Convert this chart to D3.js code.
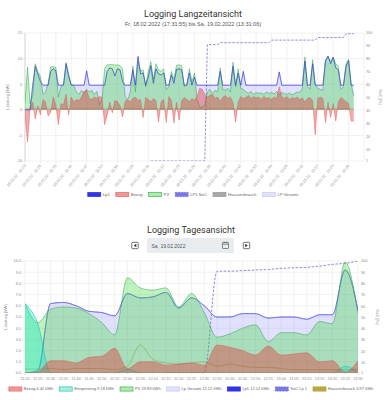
<!DOCTYPE html>
<html>
<head>
<meta charset="utf-8">
<script src="https://cdn.jsdelivr.net/npm/d3@7"></script>
<style>
  body { margin: 0; background: #fff; }
  svg text { font-family: "Liberation Sans", Arial, sans-serif; }
  .title { font-family: Roboto, "Noto Sans", sans-serif !important; fill: #333; }
</style>
</head>
<body>
<svg id="chart" width="386" height="400"></svg>
<script>
// ---- Langzeitansicht: 1-Minuten-Werte ab 11:23 ----
const longTickLabels = ["19.02.22 - 11:23", "19.02.22 - 11:29", "19.02.22 - 11:35", "19.02.22 - 11:41",
  "19.02.22 - 11:47", "19.02.22 - 11:53", "19.02.22 - 11:59", "19.02.22 - 12:05", "19.02.22 - 12:11",
  "19.02.22 - 12:17", "19.02.22 - 12:23", "19.02.22 - 12:29", "19.02.22 - 12:35", "19.02.22 - 12:41",
  "19.02.22 - 12:47", "19.02.22 - 12:53", "19.02.22 - 12:59", "19.02.22 - 13:05", "19.02.22 - 13:11",
  "19.02.22 - 13:17", "19.02.22 - 13:23", "19.02.22 - 13:29"];

const pvLong = [
  1.5, 8.3, 1.2, 2.8, 9.0, 7.5, 6.5, 3.0, 3.5, 5.2,
  8.4, 8.4, 8.3, 2.5, 4.5, 5.0, 9.2, 7.0, 5.0, 4.8,
  3.5, 3.0, 3.8, 3.2, 4.0, 3.5, 3.8, 3.0, 3.6, 1.0,
  2.0, 8.0, 8.8, 8.8, 8.9, 8.7, 8.8, 8.6, 8.0, 2.5,
  2.0, 3.5, 8.5, 3.5, 9.5, 7.5, 7.8, 4.5, 7.5, 9.4,
  6.0, 9.0, 7.8, 7.5, 8.0, 4.0, 4.5, 7.5, 6.0, 8.7,
  8.8, 8.6, 4.5, 5.0, 8.0, 5.5, 7.2, 2.0, 0.5, 0.5,
  1.0, 3.5, 4.0, 3.2, 3.8, 3.5, 8.2, 4.0, 3.8, 4.2,
  3.5, 9.3, 4.5, 8.0, 4.2, 4.0, 3.5, 3.2, 3.6, 3.0,
  3.4, 3.2, 3.3, 3.0, 3.5, 3.2, 3.4, 3.1, 3.6, 3.0,
  3.4, 3.2, 3.0, 3.3, 2.9, 3.2, 3.5, 3.4, 4.2, 10.3,
  4.5, 4.0, 9.8, 5.0, 4.2, 4.0, 3.8, 9.8, 10.3, 9.5,
  10.2, 9.0, 8.5, 4.0, 4.5, 9.0, 9.8, 5.0, 2.7];

const lp1Long = [
  0, 0, 0, 4.8, 8.5, 7.0, 5.5, 4.8, 4.8, 4.8,
  7.5, 8.0, 7.6, 4.8, 4.8, 4.8, 9.0, 6.5, 4.8, 4.8,
  4.8, 4.8, 4.8, 4.8, 7.6, 4.8, 4.8, 4.8, 4.8, 4.8,
  4.8, 4.8, 7.5, 8.2, 8.0, 6.6, 8.0, 7.8, 5.5, 4.8,
  4.8, 4.8, 7.8, 4.8, 10.4, 7.0, 7.2, 4.8, 6.5, 8.6,
  5.2, 8.0, 7.0, 6.8, 7.2, 4.8, 4.8, 6.8, 5.2, 7.9,
  8.0, 7.8, 4.8, 4.8, 7.2, 4.8, 6.4, 4.8, 4.8, 4.8,
  4.8, 4.8, 4.8, 4.8, 4.8, 4.8, 7.5, 4.8, 4.8, 4.8,
  4.8, 8.5, 4.8, 7.2, 4.8, 7.5, 4.8, 4.8, 4.8, 4.8,
  4.8, 4.8, 4.8, 4.8, 4.8, 4.8, 4.8, 4.8, 4.8, 7.4,
  4.8, 4.8, 4.8, 4.8, 4.8, 4.8, 4.8, 4.8, 4.8, 9.5,
  4.8, 4.8, 9.0, 4.8, 4.8, 4.8, 4.8, 9.5, 10.5, 9.0,
  10.3, 8.2, 7.8, 4.8, 4.8, 8.5, 9.6, 4.8, 4.8];
// nur ein Ladepunkt -> LP Gesamt = Lp1
const lpGesamtLong = lp1Long.slice();

const bezugLong = [
  -1.0, -6.3, 0.5, 1.5, -1.8, 0.8, -1.0, 2.0, 1.5, -1.2,
  -0.5, 2.5, 1.0, -2.9, 1.2, 1.0, 3.0, -1.0, 2.5, 1.5,
  2.0, 1.8, 2.5, 3.6, 3.8, 2.2, 2.0, 2.5, 2.2, 2.6,
  2.4, -2.9, -1.0, 1.5, -0.6, 1.8, 1.6, 0.8, -1.4, 1.6,
  2.0, 1.5, 2.2, 2.5, 1.8, 2.0, -1.5, 2.4, 2.0, 1.5,
  2.2, 1.8, -2.4, 1.6, 2.0, -2.5, 2.6, 1.8, -2.6, 1.5,
  -2.0, 1.8, 2.4, 2.0, 1.6, 2.2, 1.8, 2.6, 4.2, 4.0,
  3.0, 2.5, 2.8, 3.0, 2.2, 2.5, 1.6, 2.4, 2.8, 2.2,
  2.5, 1.4, -2.4, 1.5, 2.6, 2.2, 2.4, 2.8, 2.2, 2.6,
  2.3, 2.5, 2.0, 2.6, 2.2, 2.4, 2.0, 2.5, 2.2, 4.5,
  2.5, 2.2, 2.6, 2.0, 2.4, 2.2, 2.5, 2.0, 2.3, 1.5,
  2.2, 2.4, 1.8, -4.9, 2.2, 2.5, 2.2, -2.5, 1.5, -1.5,
  1.2, -2.2, 1.5, 2.4, 2.0, 1.6, 1.2, -2.2, -2.2];

const hausLong = [
  0.3, 0.3, 0.3, 0.3, 0.4, 0.3, 0.3, 0.3, 0.3, 0.3,
  0.3, 0.4, 0.3, 0.3, 0.3, 0.3, 0.4, 0.3, 0.3, 0.3,
  0.3, 0.3, 0.3, 0.3, 0.3, 0.3, 0.3, 0.3, 0.3, 0.3,
  0.3, 0.3, 0.3, 0.3, 0.3, 0.3, 0.3, 0.3, 0.3, 0.3,
  0.3, 0.3, 0.3, 0.3, 0.3, 0.3, 0.3, 0.3, 0.3, 0.3,
  0.3, 0.3, 0.3, 0.3, 0.3, 0.3, 0.3, 0.3, 0.3, 0.3,
  0.3, 0.3, 0.3, 0.3, 0.3, 0.3, 0.3, 0.3, 0.3, 0.3,
  0.3, 0.3, 0.3, 0.3, 0.3, 0.3, 0.3, 0.3, 0.3, 0.3,
  0.3, 0.3, 0.3, 0.3, 0.3, 0.3, 0.3, 0.3, 0.3, 0.3,
  0.3, 0.3, 0.3, 0.3, 0.3, 0.3, 0.3, 0.3, 0.3, 0.3,
  0.3, 0.3, 0.3, 0.3, 0.3, 0.3, 0.3, 0.3, 0.3, 0.3,
  0.3, 0.3, 0.3, 0.3, 0.3, 0.3, 0.3, 0.3, 0.3, 0.3,
  0.3, 0.3, 0.3, 0.3, 0.3, 0.3, 0.3, 0.3, 0.3];

const socLong = [
  null, null, null, null, null, null, null, null, null, null,
  null, null, null, null, null, null, null, null, null, null,
  null, null, null, null, null, null, null, null, null, null,
  null, null, null, null, null, null, null, null, null, null,
  null, null, null, null, null, null, null, null, null, 1,
  1, 1, 1, 1, 1, 1, 1, 1, 1, 1,
  1, 1, 1, 1, 1, 1, 1, 1, 1, 1,
  1, 91, 91, 91, 91, 91, 92.5, 92.5, 92.5, 92.5,
  92.5, 92.5, 92.5, 92.5, 92.5, 92.5, 92.5, 92.5, 92.5, 92.5,
  92.5, 92.5, 92.5, 92.5, 92.5, 92.5, 94.5, 94.5, 94.5, 94.5,
  94.5, 94.5, 94.5, 94.5, 94.5, 94.5, 94.5, 94.5, 94.5, 94.5,
  94.5, 94.5, 94.5, 94.5, 96.5, 96.5, 96.5, 96.5, 96.5, 96.5,
  96.5, 96.5, 96.5, 96.5, 96.5, 99.5, 99.5, 99.5, 99.5];

// ---- Tagesansicht: 5-Minuten-Werte 11:20 - 13:30 ----
const dayLabels = ["11:20", "11:25", "11:30", "11:35", "11:40", "11:45", "11:50", "11:55", "12:00",
  "12:05", "12:10", "12:15", "12:20", "12:25", "12:30", "12:35", "12:40", "12:45", "12:50",
  "12:55", "13:00", "13:05", "13:10", "13:15", "13:20", "13:25", "13:30"];
const bezugDay = [0, 0.1, 1.1, 1.1, 0.9, 1.4, 1.5, 2.2, 0.4, 1.0, 1.0, 0.7, 0.8, 0.9, 0.7, 2.5, 2.3, 2.0, 1.6, 2.4, 1.6, 1.7, 1.8, 1.0, 1.1, 0.1, 1.1];
const einspeisungDay = [6.2, 4.4, 0, 0, 0, 0, 0, 0, 0.35, 0, 0, 0, 0, 0, 0, 0, 0, 0, 0, 0, 0, 0, 0, 0, 0, 0.6, 0];
const pvDay = [6.2, 4.5, 5.7, 5.9, 5.8, 5.3, 4.5, 3.4, 8.5, 7.6, 7.4, 7.6, 5.9, 7.1, 5.4, 3.2, 3.5, 4.0, 4.3, 2.8, 3.6, 3.6, 3.4, 4.6, 4.4, 9.9, 5.3];
const lpGesamtDay = [0, 0.2, 6.2, 6.3, 6.0, 5.5, 5.4, 5.1, 7.1, 6.7, 6.8, 7.2, 5.8, 6.7, 6.0, 5.0, 5.0, 5.3, 5.3, 4.9, 5.0, 5.0, 4.8, 5.2, 5.2, 9.2, 5.6];
const lp1Day = lpGesamtDay.slice();
const socDay = [null, null, null, null, null, null, null, null, null, null, null, 1, 1, 1, 1, 91, 91, 91.5, 92, 92.5, 93.5, 94, 94.4, 95.5, 97, 98, 100];
const hausDay = [0.35, 0.35, 0.4, 0.3, 0.4, 0.4, 0.4, 0.3, 0.6, 2.5, 1.2, 0.9, 0.8, 0.9, 1.0, 0.6, 0.8, 0.6, 0.5, 0.5, 0.4, 0.3, 0.3, 0.3, 0.3, 0.3, 0.3];

const kwTicksLong = [15, 10, 5, 0, -5, -10];
const kwTicksDay = [10, 9, 8, 7, 6, 5, 4, 3, 2, 1, 0];
const socTicks = [100, 90, 80, 70, 60, 50, 40, 30, 20, 10, 1];

// Farben
const cBezug = 'rgba(225,55,55,0.42)', cBezugLine = 'rgba(225,90,90,0.8)';
const cPV = 'rgba(40,215,40,0.3)', cPVLine = 'rgba(30,150,70,0.75)';
const cLp = 'rgba(120,120,250,0.22)', cLpLine = 'rgba(110,110,230,0.85)';
const cLp1 = 'rgb(50,50,230)';
const cSoc = 'rgb(110,110,215)';
const cEinsp = 'rgba(0,230,200,0.35)', cEinspLine = 'rgba(0,190,170,0.85)';
const cHaus = 'rgba(130,130,130,0.4)';
const cHausDay = 'rgb(175,165,50)';
const tickColor = '#8a8a8a', gridColor = '#e8e8e8';

const svg = d3.select('#chart');

function measure(txt, fs) {
    var t = svg.append('text').style('font-size', fs + 'px').text(txt);
    var w = t.node().getComputedTextLength();
    t.remove();
    return w;
}

function drawArea(g, x, y, data, fill, stroke, curve) {
    var area = d3.area()
        .defined(function(d) { return d != null; })
        .x(function(d, i) { return x(i); })
        .y0(y(0))
        .y1(function(d) { return y(d); })
        .curve(curve);
    g.append('path').datum(data).attr('d', area).attr('fill', fill).attr('stroke', 'none');
    if (stroke) drawLine(g, x, y, data, stroke, 0.6, null, curve);
}

function drawLine(g, x, y, data, stroke, w, dash, curve) {
    var line = d3.line()
        .defined(function(d) { return d != null; })
        .x(function(d, i) { return x(i); })
        .y(function(d) { return y(d); })
        .curve(curve);
    g.append('path').datum(data).attr('d', line).attr('fill', 'none')
        .attr('stroke', stroke).attr('stroke-width', w)
        .attr('stroke-dasharray', dash);
}

function legend(items, cx, y, fs) {
    var bw = 13, bh = 4.2, pad = 2, gap = 6;
    var widths = items.map(function(it) { return measure(it.label, fs); });
    var total = d3.sum(widths) + items.length * (bw + pad) + (items.length - 1) * gap;
    var x = cx - total / 2;
    var g = svg.append('g');
    items.forEach(function(it, k) {
        g.append('rect').attr('x', x).attr('y', y - bh / 2).attr('width', bw).attr('height', bh)
            .attr('fill', it.fill).attr('stroke', it.stroke).attr('stroke-width', 0.7)
            .attr('stroke-dasharray', it.dash);
        g.append('text').attr('x', x + bw + pad).attr('y', y + fs * 0.35)
            .style('font-size', fs + 'px').attr('fill', '#666').text(it.label);
        x += bw + pad + widths[k] + gap;
    });
}

function axisTitle(txt, x, y, rot) {
    svg.append('text').attr('transform', 'translate(' + x + ',' + y + ') rotate(' + rot + ')')
        .attr('text-anchor', 'middle').style('font-size', '4.2px').attr('fill', tickColor).text(txt);
}

// ================= Langzeitansicht =================
svg.append('text').attr('class', 'title').attr('x', 193).attr('y', 17).attr('text-anchor', 'middle')
    .style('font-size', '9px').text('Logging Langzeitansicht');
svg.append('text').attr('x', 193).attr('y', 25.5).attr('text-anchor', 'middle')
    .style('font-size', '5.5px').attr('fill', '#555')
    .text('Fr, 18.02.2022 (17:31:55) bis Sa, 19.02.2022 (13:31:06)');

var x1 = d3.scaleLinear().domain([0, 132]).range([25, 364]);
var y1 = d3.scaleLinear().domain([-10, 15]).range([161, 33]);
var y1r = d3.scaleLinear().domain([1, 100]).range([161, 33]);

var grid1 = svg.append('g');
kwTicksLong.forEach(function(v) {
    grid1.append('line').attr('x1', 22).attr('x2', 364).attr('y1', y1(v)).attr('y2', y1(v))
        .attr('stroke', gridColor).attr('stroke-width', 0.6);
    grid1.append('text').attr('x', 22).attr('y', y1(v) + 1.3).attr('text-anchor', 'end')
        .style('font-size', '3.8px').attr('fill', tickColor).text(v);
});
longTickLabels.forEach(function(t, k) {
    var xx = x1(k * 6);
    grid1.append('line').attr('x1', xx).attr('x2', xx).attr('y1', 33).attr('y2', 164)
        .attr('stroke', gridColor).attr('stroke-width', 0.6);
    grid1.append('text').attr('transform', 'translate(' + (xx + 1) + ',166) rotate(-50)')
        .attr('text-anchor', 'end').style('font-size', '3.8px').attr('fill', tickColor).text(t);
});
grid1.append('line').attr('x1', 364).attr('x2', 364).attr('y1', 33).attr('y2', 161)
    .attr('stroke', gridColor).attr('stroke-width', 0.6);
grid1.append('line').attr('x1', 25).attr('x2', 25).attr('y1', 33).attr('y2', 161)
    .attr('stroke', '#d0d0d0').attr('stroke-width', 0.8);
socTicks.forEach(function(v) {
    grid1.append('text').attr('x', 366).attr('y', y1r(v) + 1.3)
        .style('font-size', '3.8px').attr('fill', tickColor).text(v);
});
axisTitle('Leistung [kW]', 8.5, 97, -90);
axisTitle('SoC [%]', 379, 97, 90);

svg.append('clipPath').attr('id', 'clip1').append('rect')
    .attr('x', 25).attr('y', 33).attr('width', 339).attr('height', 128);
var plot1 = svg.append('g').attr('clip-path', 'url(#clip1)');

// Chart.js zeichnet den letzten Datensatz zuerst
drawArea(plot1, x1, y1, lpGesamtLong, cLp, cLpLine, d3.curveLinear);
drawArea(plot1, x1, y1, hausLong, cHaus, null, d3.curveLinear);
drawLine(plot1, x1, y1r, socLong, cSoc, 0.8, '2.5,1.5', d3.curveLinear);
drawArea(plot1, x1, y1, pvLong, cPV, cPVLine, d3.curveLinear);
drawArea(plot1, x1, y1, bezugLong, cBezug, cBezugLine, d3.curveLinear);
drawLine(plot1, x1, y1, lp1Long, cLp1, 0.5, null, d3.curveLinear);

legend([
    { label: 'Lp1', fill: cLp1, stroke: cLp1 },
    { label: 'Bezug', fill: 'rgba(240,150,150,1)', stroke: cBezugLine },
    { label: 'PV', fill: 'rgba(170,238,170,1)', stroke: cPVLine },
    { label: 'LP1 SoC', fill: 'rgb(120,120,230)', stroke: cSoc, dash: '2,1' },
    { label: 'Hausverbrauch', fill: '#a8a8a8', stroke: '#999' },
    { label: 'LP Gesamt', fill: 'rgb(225,225,250)', stroke: 'rgb(200,200,245)' }
], 193, 194.5, 4.2);

// ================= Tagesansicht =================
svg.append('text').attr('class', 'title').attr('x', 191).attr('y', 232.5).attr('text-anchor', 'middle')
    .style('font-size', '9px').text('Logging Tagesansicht');

// Datumsauswahl
var dp = svg.append('g');
function navButton(cx, dir) {
    dp.append('rect').attr('x', cx - 3.2).attr('y', 242.3).attr('width', 6.4).attr('height', 6.4).attr('rx', 1)
        .attr('fill', 'none').attr('stroke', '#333').attr('stroke-width', 0.7);
    var p = dir < 0 ? [[cx + 1.3, 243.8], [cx + 1.3, 247.2], [cx - 1.3, 245.5]]
                    : [[cx - 1.3, 243.8], [cx - 1.3, 247.2], [cx + 1.3, 245.5]];
    dp.append('path').attr('d', d3.line()(p) + 'Z').attr('fill', '#333');
}
navButton(135, -1);
navButton(246.5, 1);
dp.append('rect').attr('x', 147).attr('y', 238).attr('width', 87).attr('height', 15).attr('rx', 1.5)
    .attr('fill', '#e9ecef');
dp.append('text').attr('x', 151.5).attr('y', 247.5).style('font-size', '5px').attr('fill', '#555')
    .text('Sa, 19.02.2022');
dp.append('rect').attr('x', 222.5).attr('y', 242.5).attr('width', 6).attr('height', 6).attr('rx', 0.6)
    .attr('fill', 'none').attr('stroke', '#444').attr('stroke-width', 0.6);
dp.append('line').attr('x1', 222.5).attr('x2', 228.5).attr('y1', 244.2).attr('y2', 244.2)
    .attr('stroke', '#444').attr('stroke-width', 0.6);
[224.2, 226.8].forEach(function(xx) {
    dp.append('line').attr('x1', xx).attr('x2', xx).attr('y1', 241.6).attr('y2', 243.2)
        .attr('stroke', '#444').attr('stroke-width', 0.6);
});

var x2 = d3.scaleLinear().domain([0, dayLabels.length - 1]).range([25, 358]);
var y2 = d3.scaleLinear().domain([0, 10]).range([373, 261]);
var y2r = d3.scaleLinear().domain([1, 100]).range([373, 261]);

var grid2 = svg.append('g');
kwTicksDay.forEach(function(v) {
    grid2.append('line').attr('x1', 22).attr('x2', 358).attr('y1', y2(v)).attr('y2', y2(v))
        .attr('stroke', gridColor).attr('stroke-width', 0.6);
    grid2.append('text').attr('x', 21).attr('y', y2(v) + 1.3).attr('text-anchor', 'end')
        .style('font-size', '3.8px').attr('fill', tickColor).text(v.toFixed(1));
});
dayLabels.forEach(function(t, i) {
    grid2.append('line').attr('x1', x2(i)).attr('x2', x2(i)).attr('y1', 261).attr('y2', 375)
        .attr('stroke', gridColor).attr('stroke-width', 0.6);
    grid2.append('text').attr('x', x2(i)).attr('y', 380).attr('text-anchor', 'middle')
        .style('font-size', '3.8px').attr('fill', tickColor).text(t);
});
socTicks.forEach(function(v) {
    grid2.append('text').attr('x', 361).attr('y', y2r(v) + 1.3)
        .style('font-size', '3.8px').attr('fill', tickColor).text(v);
});
axisTitle('Leistung [kW]', 7, 317, -90);
axisTitle('SoC [%]', 375.5, 317, 90);

svg.append('clipPath').attr('id', 'clip2').append('rect')
    .attr('x', 25).attr('y', 261).attr('width', 333).attr('height', 112);
var plot2 = svg.append('g').attr('clip-path', 'url(#clip2)');

var smooth = d3.curveMonotoneX;
drawLine(plot2, x2, y2, hausDay, cHausDay, 0.6, null, smooth);
drawLine(plot2, x2, y2r, socDay, cSoc, 0.8, '2.5,1.5', smooth);
drawLine(plot2, x2, y2, lp1Day, cLp1, 0.6, null, smooth);
drawArea(plot2, x2, y2, lpGesamtDay, cLp, cLpLine, smooth);
drawArea(plot2, x2, y2, pvDay, cPV, cPVLine, smooth);
drawArea(plot2, x2, y2, einspeisungDay, cEinsp, cEinspLine, smooth);
drawArea(plot2, x2, y2, bezugDay, cBezug, cBezugLine, smooth);

legend([
    { label: 'Bezug 4.42 kWh', fill: 'rgba(240,150,150,1)', stroke: cBezugLine },
    { label: 'Einspeisung 9.18 kWh', fill: 'rgb(170,240,225)', stroke: cEinspLine },
    { label: 'PV 29.83 kWh', fill: 'rgba(170,238,170,1)', stroke: cPVLine },
    { label: 'Lp Gesamt 12.12 kWh', fill: 'rgb(225,225,250)', stroke: 'rgb(200,200,245)' },
    { label: 'Lp1 12.12 kWh', fill: cLp1, stroke: cLp1 },
    { label: 'SoC Lp 1', fill: 'rgb(120,120,230)', stroke: cSoc, dash: '2,1' },
    { label: 'Hausverbrauch 3.97 kWh', fill: 'rgb(180,170,70)', stroke: cHausDay }
], 191, 389, 4.0);
</script>
</body>
</html>
